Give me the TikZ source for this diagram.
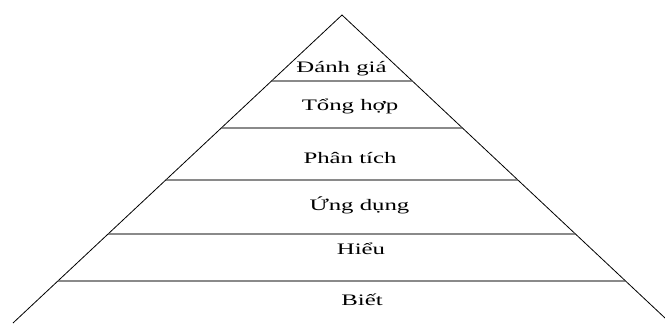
\documentclass[tikz,border=0pt]{standalone}
\usepackage{fontspec}
\setmainfont{Liberation Serif}
\newfontfamily\widefont[FakeStretch=1.55]{Liberation Serif}
\usetikzlibrary{calc}
\begin{document}
\begin{tikzpicture}[x=1pt,y=-1pt,
  edge/.style={draw=black,line width=0.8pt},
  level/.style={draw=black!70,line width=1.2pt},
  lbl/.style={anchor=base,inner sep=0pt,font=\widefont\fontsize{16}{18}\selectfont}]
\useasboundingbox (0,0) rectangle (665,324);
\coordinate (A) at (342,15);
\coordinate (L) at (13,323);
\coordinate (R) at (665,318);
\draw[edge] (L) -- (A) -- (R);
% level lines
\foreach \n/\y in {1/81,2/128,3/180,4/234,5/281}{
  \coordinate (l\n) at ($(A)!{(\y-15)/308}!(L)$);
  \coordinate (r\n) at ($(A)!{(\y-15)/303}!(R)$);
  \draw[level] (l\n) -- (r\n);
}
\node[lbl] (t1) at (341.5,72) {Đánh giá};
\node[lbl] (t2) at (350,110) {Tổng hợp};
\node[lbl] (t3) at (350,163) {Phân tích};
\node[lbl] (t4) at (359.5,210) {Ứng dụng};
\node[lbl] (t5) at (361,254) {Hiểu};
\node[lbl] (t6) at (362,305) {Biết};
\end{tikzpicture}
\end{document}
